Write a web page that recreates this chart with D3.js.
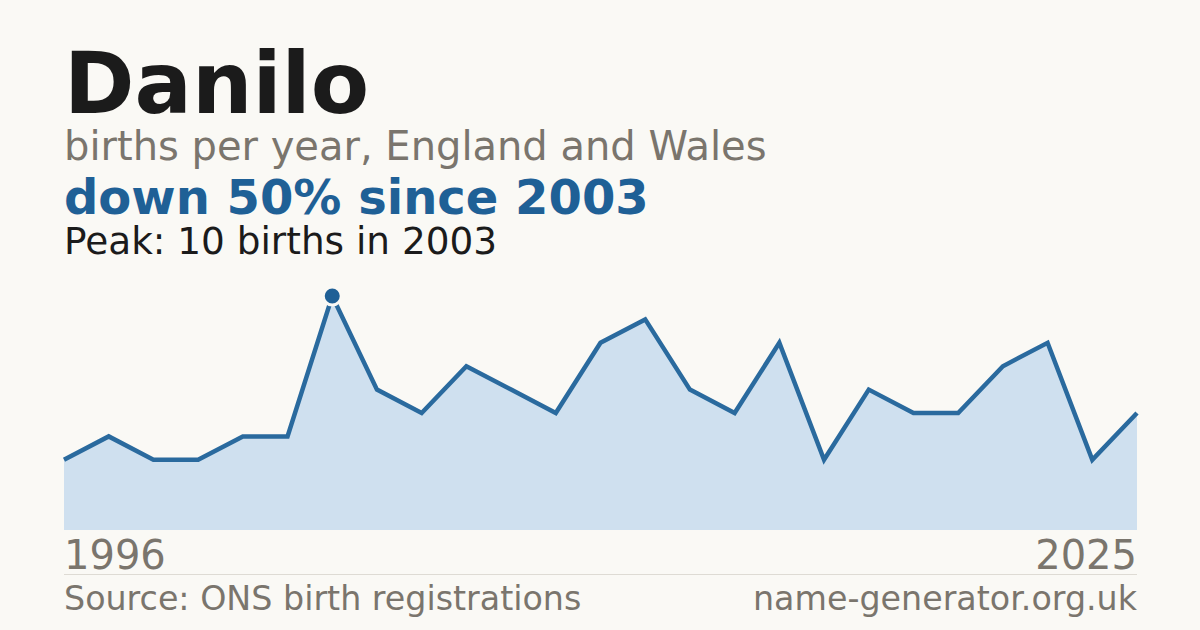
<!DOCTYPE html>
<html>
<head>
<meta charset="utf-8">
<script src="https://cdn.jsdelivr.net/npm/d3@7"></script>
<style>
  html, body { margin: 0; padding: 0; background: #faf9f5; }
  svg { display: block; font-family: "DejaVu Sans", sans-serif; }
</style>
</head>
<body>
<svg width="1200" height="630"></svg>
<script>
// data
const years = [1996, 1997, 1998, 1999, 2000, 2001, 2003, 2004, 2005, 2006, 2007, 2008, 2010,
               2011, 2012, 2013, 2015, 2016, 2017, 2018, 2019, 2021, 2022, 2024, 2025];
const births = [3, 4, 3, 3, 4, 4, 10, 6, 5, 7, 6, 5, 8, 9, 6, 5, 8, 3, 6, 5, 5, 7, 8, 3, 5];
const axisLabels = ["1996", "2025"];

var svg = d3.select("svg"),
width = +svg.attr("width"),
height = +svg.attr("height"),
margin = {left: 64, right: 63},
chartTop = 296,
chartBottom = 530;

svg.append("rect").attr("width", width).attr("height", height).attr("fill", "#faf9f5");

// heading texts
svg.append("text").attr("x", 64).attr("y", 113)
  .attr("font-size", 85).attr("font-weight", "bold").attr("fill", "#1b1b1b")
  .text("Danilo");
svg.append("text").attr("x", 64).attr("y", 160)
  .attr("font-size", 40).attr("fill", "#7a756d")
  .text("births per year, England and Wales");
svg.append("text").attr("x", 64).attr("y", 214)
  .attr("font-size", 48).attr("font-weight", "bold").attr("fill", "#1f6096")
  .text("down 50% since 2003");
svg.append("text").attr("x", 64).attr("y", 254)
  .attr("font-size", 37.4).attr("fill", "#1b1b1b")
  .text("Peak: 10 births in 2003");

var x = d3.scalePoint()
  .domain(d3.range(births.length))
  .range([margin.left, width - margin.right]);

var y = d3.scaleLinear()
  .domain([0, d3.max(births)])
  .range([chartBottom, chartTop]);

var area = d3.area()
  .x(function(d, i) { return x(i); })
  .y0(chartBottom)
  .y1(function(d) { return y(d); });

var line = d3.line()
  .x(function(d, i) { return x(i); })
  .y(function(d) { return y(d); });

svg.append("path").datum(births)
  .attr("d", area)
  .attr("fill", "#cfe0ef");

svg.append("path").datum(births)
  .attr("d", line)
  .attr("fill", "none")
  .attr("stroke", "#2a6a9e")
  .attr("stroke-width", 4.5)
  .attr("stroke-linejoin", "miter");

// peak marker
var peakIdx = births.indexOf(d3.max(births));
svg.append("circle")
  .attr("cx", x(peakIdx))
  .attr("cy", y(births[peakIdx]))
  .attr("r", 9)
  .attr("fill", "#1f6096")
  .attr("stroke", "#faf9f5")
  .attr("stroke-width", 3);

// first / last year labels
svg.append("text").attr("x", margin.left).attr("y", 569)
  .attr("font-size", 40).attr("fill", "#7a756d")
  .text(axisLabels[0]);
svg.append("text").attr("x", width - margin.right).attr("y", 569)
  .attr("text-anchor", "end")
  .attr("font-size", 40).attr("fill", "#7a756d")
  .text(axisLabels[1]);

svg.append("line")
  .attr("x1", margin.left).attr("x2", width - margin.right)
  .attr("y1", 574.5).attr("y2", 574.5)
  .attr("stroke", "#dedbd4").attr("stroke-width", 1);

svg.append("text").attr("x", 64).attr("y", 610)
  .attr("font-size", 33.3).attr("fill", "#7a756d")
  .text("Source: ONS birth registrations");
svg.append("text").attr("x", width - margin.right).attr("y", 610)
  .attr("text-anchor", "end")
  .attr("font-size", 33.3).attr("fill", "#7a756d")
  .text("name-generator.org.uk");
</script>
</body>
</html>
